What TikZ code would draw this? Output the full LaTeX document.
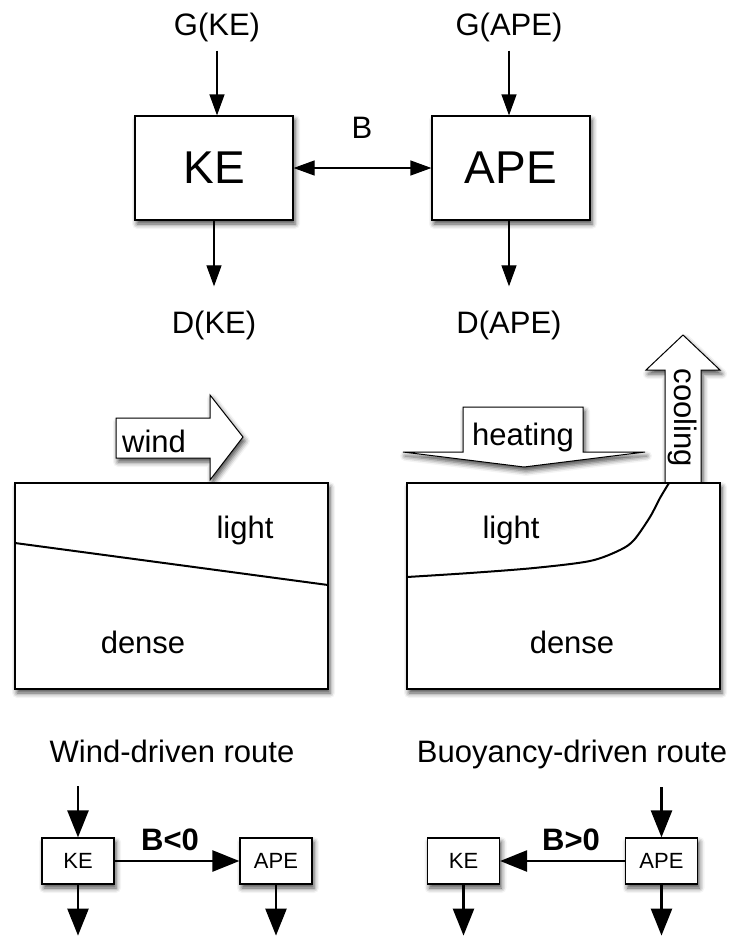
\documentclass[tikz,border=0pt]{standalone}
\usepackage{fontspec}
\setmainfont{Liberation Sans}
\usepackage{tikz}
\usetikzlibrary{arrows.meta,positioning,shadows.blur}

\begin{document}
\begin{tikzpicture}[x=1pt,y=-1pt,
 lbl/.style={font=\fontsize{31}{36}\selectfont,inner sep=3pt},
 blbl/.style={font=\fontsize{31}{36}\selectfont\bfseries,inner sep=3pt},
 shade/.style={blur shadow={shadow xshift=2pt,shadow yshift=-4pt,shadow blur radius=5pt,shadow opacity=70}},
 box/.style={draw,fill=white,line width=1.2pt,shade},
 bigbox/.style={box,minimum width=158pt,minimum height=104pt,font=\fontsize{46}{50}\selectfont},
 tank/.style={box,minimum width=313pt,minimum height=206pt},
 minibox/.style={box,minimum width=72pt,minimum height=46pt,font=\fontsize{22}{26}\selectfont},
 blockarr/.style={draw,fill=white,line width=1pt,shade},
 arr/.style={-{Triangle[length=21pt,width=15pt,fill=black]},line width=1.2pt},
 barr/.style={-{Triangle[length=27pt,width=21pt,fill=black]},line width=2.5pt},
 iso/.style={line width=2pt}]
\useasboundingbox (0,0) rectangle (737,937);
% energy budget
\node[bigbox] (ke) at (214,168) {KE};
\node[bigbox] (ape) at (511,168) {APE};
\node[lbl,anchor=base] (gke) at (217,35) {G(KE)};
\node[lbl,anchor=base] (gape) at (509,35) {G(APE)};
\node[lbl,anchor=base] (dke) at (214,333) {D(KE)};
\node[lbl,anchor=base] (dape) at (509,333) {D(APE)};
\node[lbl,anchor=base] (b) at (362,138) {B};
\foreach \g/\e in {gke/ke,gape/ape}
  \draw[arr,shorten <=6pt] (\g.south) -- (\g.south |- \e.north);
\foreach \e/\d in {ke/dke,ape/dape}
  \draw[arr,shorten >=21pt] (\e.south -| \d) -- (\d.north);
\draw[arr,{Triangle[length=21pt,width=15pt,fill=black]}-{Triangle[length=21pt,width=15pt,fill=black]}] (ke) -- (ape);
% forcing arrows
\draw[blockarr] (116,418) -- (210,418) -- (210,395) -- (243,437) -- (210,480) -- (210,458) -- (116,458) -- cycle;
\node[lbl,anchor=base west] (wind) at (119,452) {wind};
\draw[blockarr] (463,407) -- (583,407) -- (583,452) -- (645,452) -- (524,467) -- (403,452) -- (463,452) -- cycle;
\node[lbl,anchor=base] (heat) at (523,445) {heating};
\draw[blockarr] (665,483) -- (665,370) -- (646,370) -- (683,335) -- (720,370) -- (701,370) -- (701,483) -- cycle;
\node[lbl,rotate=-90] (cool) at (683,418) {cooling};
% basins
\node[tank] (windtank) at (171.5,586) {};
\node[tank] (buoytank) at (563.5,586) {};
\draw[iso] (15,543) -- (328,585);
\draw[iso] plot[smooth] coordinates {(407,577) (470,573) (534,568) (590,561) (620,550) (634,540) (650,517) (660,498) (669,483)};
\node[lbl,anchor=base] (wlight) at (245,538) {light};
\node[lbl,anchor=base] (wdense) at (143,653) {dense};
\node[lbl,anchor=base] (blight) at (511,538) {light};
\node[lbl,anchor=base] (bdense) at (572,653) {dense};
% routes
\node[lbl,anchor=base] (windroute) at (172,762) {Wind-driven route};
\node[lbl,anchor=base] (buoyroute) at (572,762) {Buoyancy-driven route};
\node[minibox] (wke) at (78,861) {KE};
\node[minibox] (wape) at (276,861) {APE};
\node[minibox] (bke) at (463.5,861) {KE};
\node[minibox] (bape) at (661.5,861) {APE};
\coordinate (win) at (78,786);
\coordinate (bin) at (661.5,787);
\draw[barr] (win) -- (wke);
\draw[barr] (bin) -- (bape);
\foreach \n in {wke,wape,bke,bape}
  \draw[barr] (\n.south) -- ++(0,51);
\draw[barr] (wke) -- (wape);
\draw[barr] (bape) -- (bke);
\node[blbl,anchor=base] (bneg) at (170,850) {B<0};
\node[blbl,anchor=base] (bpos) at (571,850) {B>0};
\end{tikzpicture}
\end{document}
